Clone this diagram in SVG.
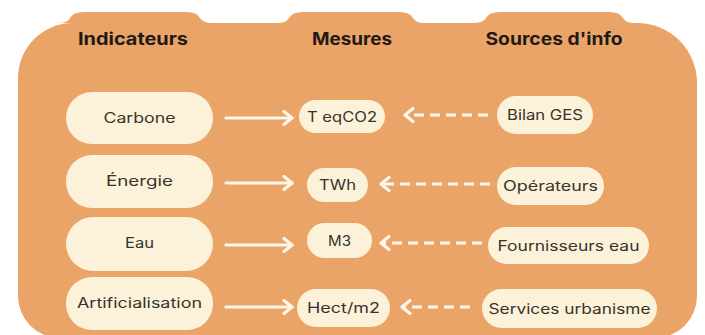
<svg xmlns="http://www.w3.org/2000/svg" width="705" height="335" viewBox="0 0 705 335">
  <defs>
    <style>
      .bg { fill: #EBA467; }
      .node { fill: #FBF2D9; }
      .hdr { font-family: Inter, "Open Sans", "DejaVu Sans", sans-serif; font-weight: 700; font-size: 17px; fill: #1E1A16; text-anchor: middle; }
      .lbl { font-family: Inter, "Open Sans", "DejaVu Sans", sans-serif; font-weight: 400; font-size: 14px; fill: #38332C; text-anchor: middle; }
      .solid { stroke: #FDF6EA; stroke-width: 3.2; fill: none; stroke-linecap: round; }
      .dash { stroke: #FDF6EA; stroke-width: 3.2; fill: none; stroke-dasharray: 10 6; }
    </style>
    <marker id="chev" viewBox="0 0 12 16" refX="10" refY="8" markerWidth="12" markerHeight="16" markerUnits="userSpaceOnUse" orient="auto">
      <path d="M2,1.5 L10,8 L2,14.5" fill="none" stroke="#FDF6EA" stroke-width="3.2" stroke-linecap="round" stroke-linejoin="round"/>
    </marker>
  </defs>

  <g id="background">
    <path class="bg" d="M 73 23 H 637 A 60 60 0 0 1 697 83 V 296 A 42 42 0 0 1 655 338 H 60 A 42 42 0 0 1 18 296 V 78 A 55 55 0 0 1 73 23 Z"/>
    <path class="bg" d="M 58 23 Q 68 23 70 18 Q 73 12 84 12 H 186 Q 197 12 200 18 Q 203 23 212 23 Z"/>
    <path class="bg" d="M 278 23 Q 286 23 289 18 Q 292 12 303 12 H 399 Q 410 12 413 18 Q 416 23 424 23 Z"/>
    <path class="bg" d="M 474 23 Q 483 23 486 18 Q 489 12 500 12 H 609 Q 620 12 623 18 Q 626 23 634 23 Z"/>
  </g>

  <g id="headers">
    <text class="hdr" x="133" y="45" textLength="110" lengthAdjust="spacingAndGlyphs">Indicateurs</text>
    <text class="hdr" x="352" y="45" textLength="80" lengthAdjust="spacingAndGlyphs">Mesures</text>
    <text class="hdr" x="554" y="45" textLength="137" lengthAdjust="spacingAndGlyphs">Sources d'info</text>
  </g>

  <g id="connectors">
    <line class="solid" x1="226" y1="118" x2="292" y2="118" marker-end="url(#chev)"/>
    <line class="solid" x1="226" y1="183" x2="292" y2="183" marker-end="url(#chev)"/>
    <line class="solid" x1="226" y1="245" x2="292" y2="245" marker-end="url(#chev)"/>
    <line class="solid" x1="226" y1="307" x2="292" y2="307" marker-end="url(#chev)"/>
    <line class="dash" x1="488" y1="115" x2="405" y2="115" marker-end="url(#chev)"/>
    <line class="dash" x1="490" y1="184" x2="381" y2="184" marker-end="url(#chev)"/>
    <line class="dash" x1="482" y1="243" x2="381" y2="243" marker-end="url(#chev)"/>
    <line class="dash" x1="470" y1="307" x2="402" y2="307" marker-end="url(#chev)"/>
  </g>

  <g id="node-carbone">
    <rect class="node" x="66" y="92" width="147" height="52" rx="26"/>
    <text class="lbl" x="139.5" y="123" textLength="72" lengthAdjust="spacingAndGlyphs">Carbone</text>
  </g>
  <g id="node-energie">
    <rect class="node" x="66" y="155" width="147" height="53" rx="26"/>
    <text class="lbl" x="139.5" y="186" textLength="67" lengthAdjust="spacingAndGlyphs">Énergie</text>
  </g>
  <g id="node-eau">
    <rect class="node" x="66" y="217" width="147" height="54" rx="27"/>
    <text class="lbl" x="139.5" y="248" textLength="29" lengthAdjust="spacingAndGlyphs">Eau</text>
  </g>
  <g id="node-artificialisation">
    <rect class="node" x="66" y="277" width="147" height="53" rx="26"/>
    <text class="lbl" x="139.5" y="308" textLength="125" lengthAdjust="spacingAndGlyphs">Artificialisation</text>
  </g>

  <g id="node-teqco2">
    <rect class="node" x="299" y="100" width="86" height="33" rx="16.5"/>
    <text class="lbl" x="342" y="121.5" textLength="70" lengthAdjust="spacingAndGlyphs">T eqCO2</text>
  </g>
  <g id="node-twh">
    <rect class="node" x="307" y="168" width="61" height="34" rx="17"/>
    <text class="lbl" x="337.5" y="190" textLength="37" lengthAdjust="spacingAndGlyphs">TWh</text>
  </g>
  <g id="node-m3">
    <rect class="node" x="307" y="223" width="65" height="35" rx="17.5"/>
    <text class="lbl" x="339.5" y="245.5" textLength="23" lengthAdjust="spacingAndGlyphs">M3</text>
  </g>
  <g id="node-hect">
    <rect class="node" x="297" y="289" width="93" height="38" rx="19"/>
    <text class="lbl" x="343.5" y="313" textLength="73" lengthAdjust="spacingAndGlyphs">Hect/m2</text>
  </g>

  <g id="node-bilan">
    <rect class="node" x="497" y="96" width="96" height="38" rx="19"/>
    <text class="lbl" x="545" y="120" textLength="76" lengthAdjust="spacingAndGlyphs">Bilan GES</text>
  </g>
  <g id="node-operateurs">
    <rect class="node" x="497" y="167" width="107" height="38" rx="19"/>
    <text class="lbl" x="550.5" y="191" textLength="95" lengthAdjust="spacingAndGlyphs">Opérateurs</text>
  </g>
  <g id="node-fournisseurs">
    <rect class="node" x="488" y="227" width="161" height="37" rx="18.5"/>
    <text class="lbl" x="568.5" y="250.5" textLength="142" lengthAdjust="spacingAndGlyphs">Fournisseurs eau</text>
  </g>
  <g id="node-services">
    <rect class="node" x="482" y="289" width="175" height="39" rx="19.5"/>
    <text class="lbl" x="569.5" y="313.5" textLength="162" lengthAdjust="spacingAndGlyphs">Services urbanisme</text>
  </g>
</svg>
